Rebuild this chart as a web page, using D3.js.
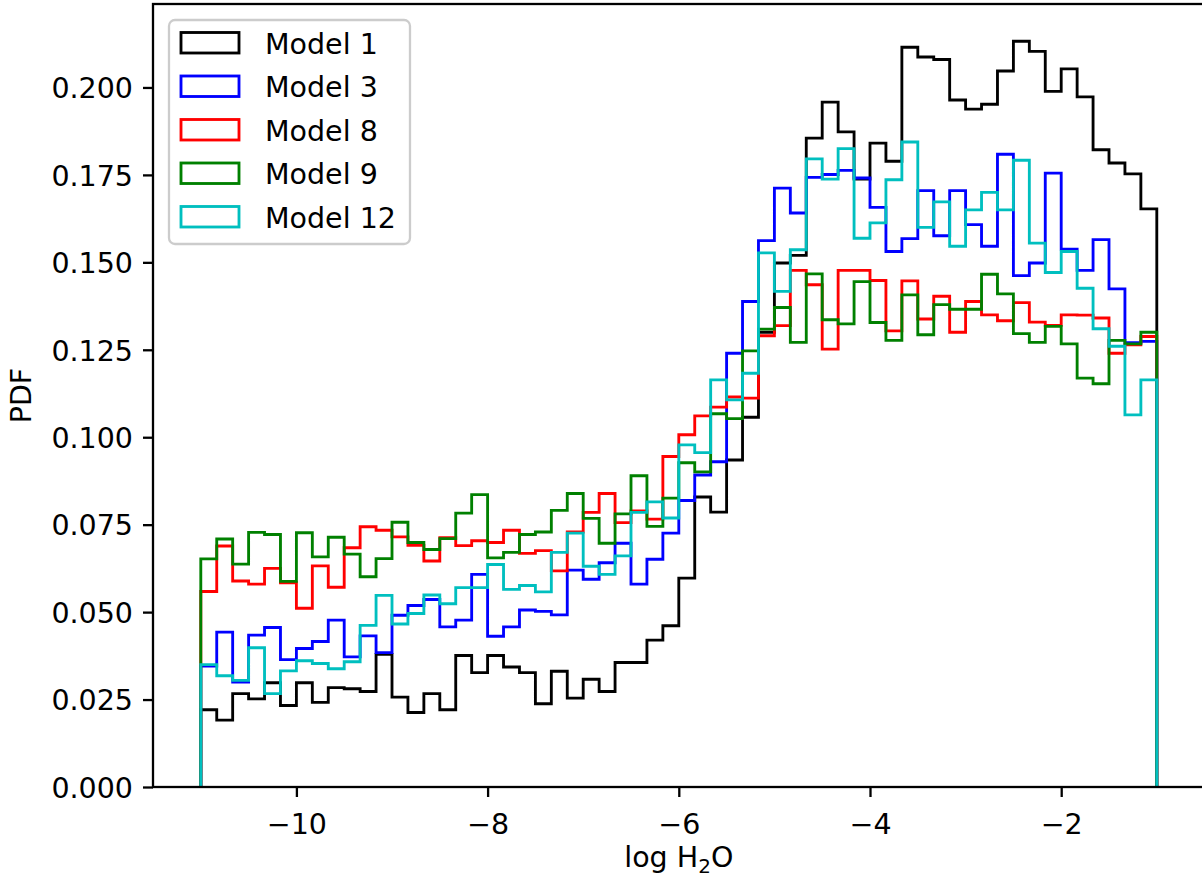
<!DOCTYPE html>
<html>
<head>
<meta charset="utf-8">
<script src="https://cdn.jsdelivr.net/npm/d3@7"></script>
<style>
  html, body { margin: 0; padding: 0; background: #fff; }
  svg { display: block; font-family: "DejaVu Sans", sans-serif; }
</style>
</head>
<body>
<svg id="chart" width="1202" height="881"></svg>
<script>
// ---------------- data ----------------
const binStart = -11, binEnd = -1, binCount = 60;

const model1 = [0.0221,0.0191,0.0267,0.0252,0.0298,0.0233,0.0298,0.0242,0.0284,0.0281,
  0.0273,0.0379,0.0257,0.0213,0.0267,0.0221,0.0376,0.0327,0.0376,0.0343,
  0.0327,0.0238,0.0331,0.0254,0.0308,0.0273,0.0356,0.0356,0.0420,0.0461,
  0.0597,0.0829,0.0786,0.0935,0.1057,0.1300,0.1498,0.1520,0.1855,0.1958,
  0.1873,0.1738,0.1841,0.1789,0.2115,0.2087,0.2080,0.1964,0.1938,0.1952,
  0.2047,0.2132,0.2103,0.1989,0.2053,0.1973,0.1822,0.1784,0.1753,0.1653];

const model3 = [0.0346,0.0443,0.0300,0.0434,0.0456,0.0364,0.0396,0.0416,0.0477,0.0372,
  0.0432,0.0384,0.0491,0.0519,0.0536,0.0458,0.0477,0.0608,0.0431,0.0458,
  0.0506,0.0502,0.0492,0.0620,0.0594,0.0641,0.0697,0.0580,0.0651,0.0726,
  0.0819,0.0892,0.0930,0.1240,0.1388,0.1562,0.1712,0.1641,0.1743,0.1751,
  0.1763,0.1741,0.1657,0.1531,0.1568,0.1705,0.1576,0.1705,0.1608,0.1546,
  0.1809,0.1462,0.1498,0.1755,0.1538,0.1477,0.1565,0.1424,0.1270,0.1274];

const model8 = [0.0559,0.0689,0.0589,0.0580,0.0625,0.0584,0.0511,0.0632,0.0571,0.0684,
  0.0744,0.0734,0.0715,0.0691,0.0646,0.0713,0.0690,0.0704,0.0699,0.0734,
  0.0668,0.0676,0.0618,0.0729,0.0785,0.0839,0.0756,0.0789,0.0766,0.0945,
  0.1007,0.1061,0.1086,0.1115,0.1112,0.1290,0.1319,0.1477,0.1436,0.1252,
  0.1477,0.1477,0.1448,0.1304,0.1447,0.1338,0.1403,0.1300,0.1388,0.1350,
  0.1333,0.1385,0.1329,0.1320,0.1350,0.1349,0.1341,0.1240,0.1264,0.1288];

const model9 = [0.0652,0.0709,0.0637,0.0728,0.0722,0.0588,0.0727,0.0658,0.0714,0.0666,
  0.0601,0.0653,0.0757,0.0699,0.0679,0.0710,0.0783,0.0836,0.0655,0.0671,
  0.0722,0.0729,0.0791,0.0839,0.0768,0.0697,0.0781,0.0890,0.0745,0.0826,
  0.0927,0.0901,0.1067,0.1053,0.1247,0.1309,0.1371,0.1271,0.1467,0.1336,
  0.1324,0.1445,0.1328,0.1277,0.1407,0.1293,0.1379,0.1366,0.1366,0.1466,
  0.1410,0.1296,0.1271,0.1317,0.1267,0.1169,0.1153,0.1277,0.1267,0.1300];

const model12 = [0.0350,0.0318,0.0305,0.0398,0.0267,0.0332,0.0361,0.0353,0.0338,0.0358,
  0.0462,0.0548,0.0466,0.0496,0.0549,0.0524,0.0570,0.0570,0.0636,0.0565,
  0.0576,0.0558,0.0671,0.0726,0.0631,0.0608,0.0661,0.0785,0.0815,0.0769,
  0.0978,0.0956,0.1164,0.1107,0.1183,0.1527,0.1417,0.1536,0.1796,0.1738,
  0.1825,0.1569,0.1613,0.1736,0.1844,0.1600,0.1673,0.1546,0.1650,0.1700,
  0.1650,0.1792,0.1555,0.1471,0.1531,0.1426,0.1310,0.1260,0.1064,0.1164];

const seriesNames = ["Model 1", "Model 3", "Model 8", "Model 9", "Model 12"];
const seriesColors = ["#000000", "#0000ff", "#ff0000", "#008000", "#00bfbf"];
const seriesValues = [model1, model3, model8, model9, model12];

const xTicks = [-10, -8, -6, -4, -2];
const yTicks = [0, 0.025, 0.05, 0.075, 0.1, 0.125, 0.15, 0.175, 0.2];
const xLabel = "log H";
const yLabel = "PDF";

// ---------------- layout ----------------
const svg = d3.select("#chart");
const mLeft = 153, mRight = 1204.6, mTop = 4, mBottom = 787;
const fontSize = 28.5;
const lw = 2.85;

const edges = d3.range(binCount + 1).map(i => binStart + i * (binEnd - binStart) / binCount);
const span = binEnd - binStart;
const x = d3.scaleLinear().domain([binStart - 0.05 * span, binEnd + 0.05 * span]).range([mLeft, mRight]);
const ymax = d3.max(seriesValues.flat()) * 1.05;
const y = d3.scaleLinear().domain([0, ymax]).range([mBottom, mTop]);

// histograms (step)
const plot = svg.append("g");
seriesValues.forEach((vals, si) => {
  const pts = [[edges[0], 0]];
  vals.forEach((v, i) => { pts.push([edges[i], v]); pts.push([edges[i + 1], v]); });
  pts.push([edges[binCount], 0]);
  const line = d3.line().x(d => x(d[0])).y(d => y(d[1]));
  plot.append("path")
    .attr("d", line(pts))
    .attr("fill", "none")
    .attr("stroke", seriesColors[si])
    .attr("stroke-width", lw)
    .attr("stroke-linejoin", "miter")
    .attr("stroke-miterlimit", 10);
});

// axes
const xAxis = d3.axisBottom(x).tickValues(xTicks)
  .tickFormat(d => d3.format("d")(d).replace("-", "\u2212"))
  .tickSize(10).tickPadding(10);
const yAxis = d3.axisLeft(y).tickValues(yTicks)
  .tickFormat(d3.format(".3f")).tickSize(10).tickPadding(10);

const gx = svg.append("g").attr("transform", `translate(0,${mBottom})`).call(xAxis);
const gy = svg.append("g").attr("transform", `translate(${mLeft},0)`).call(yAxis);
[gx, gy].forEach(g => {
  g.select(".domain").remove();
  g.selectAll(".tick line").attr("stroke", "#000").attr("stroke-width", 2.3);
  g.selectAll(".tick text").attr("fill", "#000").attr("font-size", fontSize)
    .attr("font-family", "DejaVu Sans");
});
gx.selectAll(".tick text").attr("dy", null).attr("y", 47);
gy.selectAll(".tick text").attr("dy", "0.36em");

// spines
svg.append("rect").attr("x", mLeft).attr("y", mTop).attr("width", mRight - mLeft).attr("height", mBottom - mTop)
  .attr("fill", "none").attr("stroke", "#000").attr("stroke-width", 2.3);

// axis labels
const xl = svg.append("text").attr("x", x(-6)).attr("y", 867).attr("text-anchor", "middle")
  .attr("font-size", fontSize).attr("fill", "#000");
xl.append("tspan").text(xLabel);
xl.append("tspan").attr("font-size", fontSize * 0.7).attr("dy", 6).text("2");
xl.append("tspan").attr("dy", -6).text("O");

svg.append("text").attr("transform", `translate(31,${(mTop + mBottom) / 2}) rotate(-90)`)
  .attr("text-anchor", "middle").attr("font-size", fontSize).attr("fill", "#000").text(yLabel);

// legend
const lg = svg.append("g");
lg.append("rect").attr("x", 169).attr("y", 20).attr("width", 241).attr("height", 224)
  .attr("rx", 6).attr("ry", 6).attr("fill", "#fff").attr("fill-opacity", 0.8)
  .attr("stroke", "#cccccc").attr("stroke-width", 2.3);
seriesNames.forEach((name, i) => {
  const rowY = 32.5 + i * 43.5;
  lg.append("rect").attr("x", 181).attr("y", rowY).attr("width", 58).attr("height", 20.5)
    .attr("fill", "none").attr("stroke", seriesColors[i]).attr("stroke-width", lw);
  lg.append("text").attr("x", 265).attr("y", rowY + 21).attr("font-size", fontSize)
    .attr("fill", "#000").text(name);
});
</script>
</body>
</html>
